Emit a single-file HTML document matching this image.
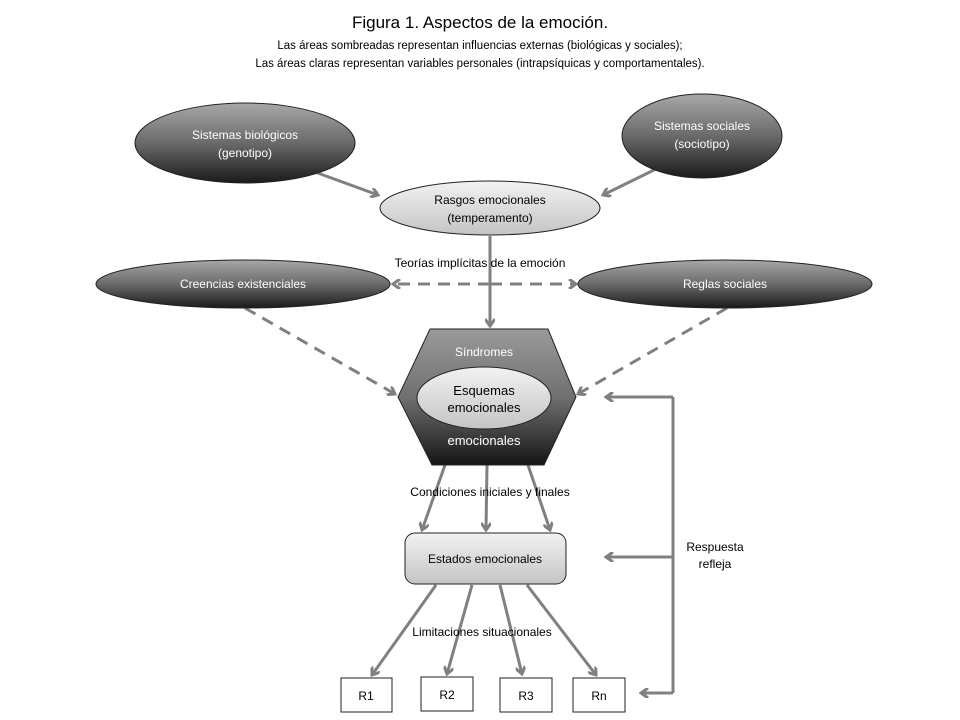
<!DOCTYPE html>
<html><head><meta charset="utf-8"><style>body{margin:0;background:#fff}svg{display:block}text{font-family:"Liberation Sans",sans-serif}</style></head><body>
<svg width="960" height="720" viewBox="0 0 960 720" xmlns="http://www.w3.org/2000/svg">
<defs>
<linearGradient id="dk" x1="0" y1="0" x2="0" y2="1"><stop offset="0" stop-color="#a8a8a8"/><stop offset="0.5" stop-color="#6a6a6a"/><stop offset="1" stop-color="#1a1a1a"/></linearGradient>
<linearGradient id="lt" x1="0" y1="0" x2="0" y2="1"><stop offset="0" stop-color="#f2f2f2"/><stop offset="1" stop-color="#c4c4c4"/></linearGradient>
<linearGradient id="hx" x1="0" y1="0" x2="0" y2="1"><stop offset="0" stop-color="#9a9a9a"/><stop offset="0.5" stop-color="#707070"/><stop offset="1" stop-color="#151515"/></linearGradient>
<marker id="a" markerWidth="10" markerHeight="10" refX="8" refY="5" orient="auto" markerUnits="userSpaceOnUse"><path d="M1,0 L8,5 L1,10" fill="none" stroke="#808080" stroke-width="3"/></marker>
</defs>
<text x="480" y="28" font-size="17" text-anchor="middle">Figura 1. Aspectos de la emoción.</text>
<text x="480" y="49" font-size="11.5" text-anchor="middle">Las áreas sombreadas representan influencias externas (biológicas y sociales);</text>
<text x="480" y="67" font-size="11.5" text-anchor="middle">Las áreas claras representan variables personales (intrapsíquicas y comportamentales).</text>
<g stroke="#808080" stroke-width="3" fill="none">
<line x1="315" y1="172" x2="378" y2="195" marker-end="url(#a)"/>
<line x1="660" y1="167" x2="603" y2="195" marker-end="url(#a)"/>
<line x1="490" y1="236" x2="490" y2="326" marker-end="url(#a)"/>
<g stroke-dasharray="12,8"><line x1="490" y1="284" x2="393" y2="284" marker-end="url(#a)"/><line x1="490" y1="284" x2="576" y2="284" marker-end="url(#a)"/>
<line x1="245" y1="308" x2="395" y2="394" marker-end="url(#a)"/><line x1="727" y1="308" x2="578" y2="394" marker-end="url(#a)"/></g>
<line x1="445" y1="465" x2="422" y2="530" marker-end="url(#a)"/><line x1="487" y1="465" x2="486" y2="530" marker-end="url(#a)"/><line x1="528" y1="465" x2="550" y2="530" marker-end="url(#a)"/>
<line x1="436" y1="585" x2="372" y2="675" marker-end="url(#a)"/><line x1="472" y1="585" x2="447" y2="674" marker-end="url(#a)"/><line x1="500" y1="585" x2="522" y2="674" marker-end="url(#a)"/><line x1="527" y1="585" x2="596" y2="675" marker-end="url(#a)"/>
<path d="M673,397 V693"/><line x1="673" y1="397" x2="606" y2="397" marker-end="url(#a)"/><line x1="673" y1="557" x2="606" y2="557" marker-end="url(#a)"/><line x1="673" y1="693" x2="641" y2="693" marker-end="url(#a)"/>
</g>
<g stroke="#222" stroke-width="1">
<ellipse cx="245" cy="143" rx="110" ry="40" fill="url(#dk)"/>
<ellipse cx="702" cy="136" rx="80" ry="42" fill="url(#dk)"/>
<ellipse cx="490" cy="208" rx="110" ry="27" fill="url(#lt)"/>
<ellipse cx="243" cy="284" rx="147" ry="24" fill="url(#dk)"/>
<ellipse cx="725" cy="284" rx="147" ry="24" fill="url(#dk)"/>
<polygon points="430,329 548,329 576,397 544,465 432,465 398,397" fill="url(#hx)"/>
<ellipse cx="484" cy="398" rx="67" ry="31" fill="url(#lt)"/>
<rect x="405" y="533" width="161" height="51" rx="10" fill="url(#lt)"/>
<rect x="341" y="678" width="51" height="34" fill="#fff"/><rect x="421" y="677" width="52" height="34" fill="#fff"/><rect x="500" y="678" width="52" height="34" fill="#fff"/><rect x="573" y="678" width="52" height="34" fill="#fff"/>
</g>
<g font-size="12" text-anchor="middle" fill="#fff">
<text x="245" y="139">Sistemas biológicos</text><text x="245" y="157">(genotipo)</text>
<text x="702" y="130">Sistemas sociales</text><text x="702" y="148">(sociotipo)</text>
<text x="243" y="288">Creencias existenciales</text><text x="725" y="288">Reglas sociales</text>
<text x="484" y="356">Síndromes</text><text x="484" y="445" font-size="13">emocionales</text>
</g>
<g font-size="12" text-anchor="middle" fill="#000">
<text x="490" y="204">Rasgos emocionales</text><text x="490" y="222">(temperamento)</text>
<text x="480" y="267">Teorías implícitas  de la emoción</text>
<text x="484" y="395" font-size="13">Esquemas</text><text x="484" y="412" font-size="13">emocionales</text>
<text x="490" y="496">Condiciones iniciales y finales</text>
<text x="485" y="563">Estados emocionales</text>
<text x="482" y="636">Limitaciones situacionales</text>
<text x="715" y="551">Respuesta</text><text x="715" y="568">refleja</text>
<text x="366" y="700">R1</text><text x="447" y="699">R2</text><text x="526" y="700">R3</text><text x="599" y="700">Rn</text>
</g>
</svg>
</body></html>
